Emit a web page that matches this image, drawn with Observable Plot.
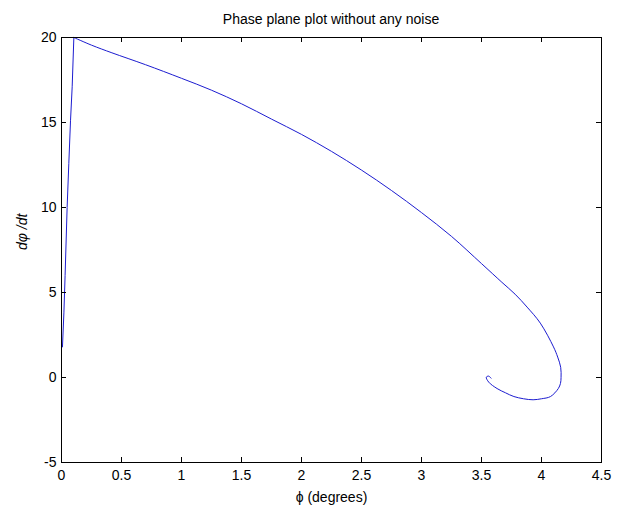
<!DOCTYPE html>
<html>
<head>
<meta charset="utf-8">
<script src="https://cdn.jsdelivr.net/npm/d3@7"></script>
<script src="https://cdn.jsdelivr.net/npm/@observablehq/plot@0.6"></script>
<style>
  html, body { margin: 0; padding: 0; background: #fff; }
  #title { width: 622px; height: 30px; box-sizing: border-box; padding: 6px 0 0 40px; line-height: 26px;
           text-align: center; font-family: "Liberation Sans", Arial, sans-serif; font-size: 14px; color: #000; }
</style>
</head>
<body>
<div id="title"></div>
<div id="chart"></div>
<script>
const titleText = "Phase plane plot without any noise";
const xLabel = "ϕ (degrees)";
const yLabel = "dφ /dt";
const xTicks = [0, 0.5, 1, 1.5, 2, 2.5, 3, 3.5, 4, 4.5];
const yTicks = [-5, 0, 5, 10, 15, 20];

// phase trajectory: phi (x) and dphi/dt (y)
const phi = [0.008, 0.02, 0.03, 0.047, 0.061, 0.075, 0.089, 0.103,
  0.25, 0.42, 0.7, 1.0, 1.25, 1.5, 1.75, 2.0, 2.25, 2.5, 2.75, 3.0, 3.25, 3.5, 3.67,
  3.78, 3.88, 3.99, 4.1, 4.135, 4.16, 4.163, 4.158, 4.14, 4.075, 4.0, 3.93, 3.85, 3.77, 3.7, 3.63,
  3.56, 3.54, 3.56, 3.58];
const dphi = [1.8, 3.8, 6.0, 10.0, 12.6, 15.1, 17.1, 20.0,
  19.55, 19.1, 18.4, 17.6, 16.9, 16.1, 15.2, 14.3, 13.3, 12.2, 11.0, 9.7, 8.3, 6.7, 5.6,
  4.9, 4.14, 3.2, 1.8, 1.2, 0.6, 0.0, -0.35, -0.65, -1.12, -1.25, -1.31, -1.25, -1.12, -0.9, -0.65,
  -0.27, 0.02, 0.08, -0.04];

document.getElementById("title").textContent = titleText;
const pts = phi.map((x, i) => ({x, y: dphi[i]}));
const peak = 7; // index of the maximum
const rise = pts.slice(0, peak + 1);
const fall = pts.slice(peak);
const W = 622, H = 480, mL = 61, mR = 21, mT = 7, mB = 48;
const pw = W - mL - mR, ph = H - mT - mB, tk = 5;

const chart = Plot.plot({
  width: W, height: H,
  marginLeft: mL, marginRight: mR, marginTop: mT, marginBottom: mB,
  style: {fontFamily: '"Liberation Sans", Arial, sans-serif', fontSize: "14px", background: "#fff", color: "#000"},
  x: {domain: [0, 4.5]},
  y: {domain: [-5, 20]},
  marks: [
    Plot.line(rise, {x: "x", y: "y", stroke: "#1c1cd0", strokeWidth: 1}),
    Plot.line(fall, {x: "x", y: "y", stroke: "#1c1cd0", strokeWidth: 1, curve: "catmull-rom"}),
    Plot.tickX(xTicks, {x: d => d, insetTop: ph - tk, stroke: "#000"}),
    Plot.tickX(xTicks, {x: d => d, insetBottom: ph - tk, stroke: "#000"}),
    Plot.tickY(yTicks, {y: d => d, insetRight: pw - tk, stroke: "#000"}),
    Plot.tickY(yTicks, {y: d => d, insetLeft: pw - tk, stroke: "#000"}),
    Plot.frame({stroke: "#000"}),
    Plot.axisX(xTicks, {tickSize: 0, tickPadding: 8, tickFormat: d => String(d), label: null}),
    Plot.axisY(yTicks, {tickSize: 0, tickPadding: 5, tickFormat: d => String(d), label: null}),
    Plot.text([xLabel], {text: d => d, frameAnchor: "bottom", dy: 39, fontSize: 14}),
    Plot.text([yLabel], {text: d => d, frameAnchor: "left", dx: -39, rotate: -90, fontStyle: "italic", fontSize: 14})
  ]
});
document.getElementById("chart").appendChild(chart);
</script>
</body>
</html>
